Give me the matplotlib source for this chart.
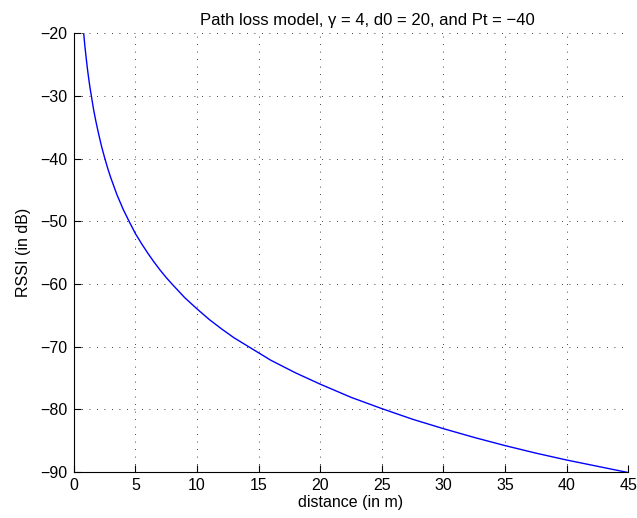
import matplotlib
matplotlib.use('Agg')
import matplotlib.pyplot as plt

# values
distance = [0.8, 0.85, 0.9, 0.95, 1, 1.1, 1.2, 1.3, 1.4, 1.5, 1.6, 1.8, 2, 2.25, 2.5,
            2.75, 3, 3.5, 4, 4.5, 5, 5.5, 6, 6.5, 7, 7.5, 8, 9, 10, 11, 12, 13, 14, 15,
            16, 17, 18, 19, 20, 22.5, 25, 27.5, 30, 32.5, 35, 37.5, 40, 42.5, 45]
rssi = [-20.1, -21.2, -22.2, -23.1, -24.0, -25.7, -27.2, -28.6, -29.8, -31.0, -32.2,
        -34.2, -36.0, -38.1, -39.9, -41.6, -43.1, -45.8, -48.1, -50.1, -52.0, -53.6,
        -55.1, -56.5, -57.8, -59.0, -60.1, -62.2, -64.0, -65.7, -67.2, -68.6, -69.8,
        -71.0, -72.2, -73.2, -74.2, -75.1, -76.0, -78.1, -79.9, -81.6, -83.1, -84.5,
        -85.8, -87.0, -88.1, -89.1, -90.1]

xticks = [0, 5, 10, 15, 20, 25, 30, 35, 40, 45]
yticks = [-90, -80, -70, -60, -50, -40, -30, -20]

plt.rcParams['font.family'] = ['Liberation Sans', 'DejaVu Sans']
plt.rcParams['font.size'] = 11.5
plt.rcParams['axes.unicode_minus'] = True

fig = plt.figure(figsize=(6.37, 5.18), dpi=100)
ax = fig.add_axes([0.116, 0.089, 0.870, 0.847])

ax.plot(distance, rssi, color='#0000ff', lw=1.0)

ax.set_xlim(0, 45)
ax.set_ylim(-90, -20)
ax.set_xticks(xticks)
ax.set_yticks(yticks)
ax.tick_params(direction='in', length=5, width=0.8, pad=4.5)
ax.spines['top'].set_visible(False)
ax.spines['right'].set_visible(False)
ax.grid(True, linestyle=(0, (1, 8)), color='black', lw=0.6)

ax.set_xlabel('distance (in m)', labelpad=1)
ax.set_ylabel('RSSI (in dB)', labelpad=7)
ax.set_title('Path loss model, \u03b3 = 4, d0 = 20, and Pt = \u221240',
             fontsize=12, x=0.529, pad=6)

fig.savefig('out.png', dpi=100)
